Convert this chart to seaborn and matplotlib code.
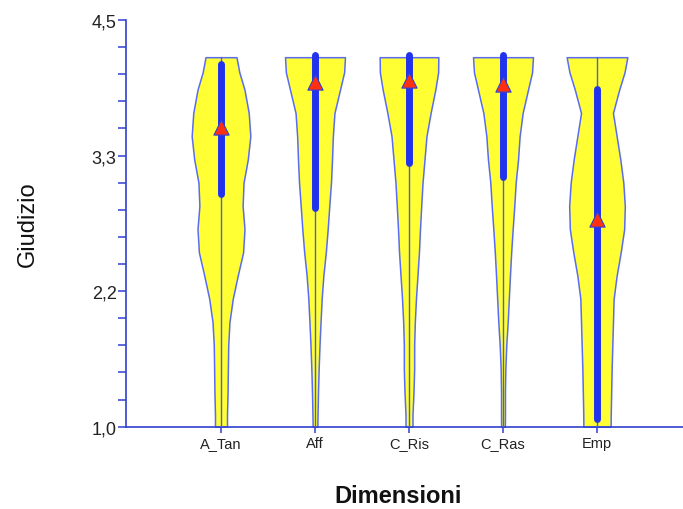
import numpy as np
import pandas as pd
import seaborn as sns
import matplotlib.pyplot as plt
from matplotlib import ticker

# categorie e profili dei violini (mezza larghezza, in unita' di categoria)
dimensioni = ["A_Tan", "Aff", "C_Ris", "C_Ras", "Emp"]
livelli = [4.18, 4.05, 3.9, 3.7, 3.5, 3.3, 3.1, 2.9, 2.7, 2.5, 2.3, 2.1,
           1.9, 1.7, 1.5, 1.3, 1.1, 1.0]
w_a_tan = [0.165, 0.195, 0.25, 0.295, 0.312, 0.285, 0.24, 0.23, 0.25, 0.235,
           0.178, 0.125, 0.09, 0.077, 0.073, 0.07, 0.064, 0.064]
w_aff = [0.319, 0.31, 0.266, 0.207, 0.19, 0.181, 0.17, 0.152, 0.135, 0.115,
         0.089, 0.071, 0.059, 0.048, 0.039, 0.032, 0.027, 0.025]
w_c_ris = [0.312, 0.31, 0.28, 0.23, 0.186, 0.165, 0.144, 0.13, 0.117, 0.106,
           0.09, 0.074, 0.062, 0.055, 0.055, 0.048, 0.037, 0.037]
w_c_ras = [0.319, 0.309, 0.266, 0.209, 0.177, 0.16, 0.135, 0.12, 0.103, 0.087,
           0.074, 0.062, 0.05, 0.035, 0.025, 0.021, 0.021, 0.02]
w_emp = [0.323, 0.293, 0.236, 0.17, 0.209, 0.248, 0.28, 0.296, 0.289, 0.252,
         0.209, 0.177, 0.17, 0.163, 0.156, 0.151, 0.146, 0.145]

# statistiche: quartili, baffi, medie
q1 = [3.0, 2.88, 3.27, 3.15, 1.07]
q3 = [4.12, 4.2, 4.2, 4.2, 3.91]
baffo_min = [1.0, 1.0, 1.0, 1.0, 1.0]
baffo_max = [4.18, 4.2, 4.2, 4.2, 4.18]
medie = [3.58, 3.97, 3.98, 3.95, 2.79]

y_ticks = [1.0, 2.1667, 3.3333, 4.5]
y_tick_labels = ["1,0", "2,2", "3,3", "4,5"]

sns.set_style("white")
plt.rcParams['font.family'] = ['Liberation Sans', 'DejaVu Sans']

blu_asse = '#3040d0'
blu_bordo = '#5a6cf0'
blu_box = '#2233ee'
giallo = '#ffff33'

fig = plt.figure(figsize=(6.83, 5.10), dpi=100)
ax = fig.add_axes([126 / 683, (510 - 427.7) / 510, 1 - 126 / 683, (427.7 - 21) / 510])

profili = [w_a_tan, w_aff, w_c_ris, w_c_ras, w_emp]
for i, w in enumerate(profili):
    w = np.array(w)
    ax.fill_betweenx(livelli, i - w, i + w, facecolor=giallo,
                     edgecolor=blu_bordo, linewidth=1.1, zorder=2)
    ax.plot([i, i], [baffo_min[i], baffo_max[i]], color='#5060c8',
            linewidth=1.0, zorder=3)
    ax.plot([i, i], [q1[i], q3[i]], color=blu_box, linewidth=5,
            solid_capstyle='round', zorder=4)

df_medie = pd.DataFrame({'pos': np.arange(len(dimensioni)), 'media': medie})
sns.scatterplot(data=df_medie, x='pos', y='media', marker='^', s=120,
                color='#ff3010', edgecolor='#3040d0', linewidth=0.8,
                zorder=5, ax=ax, legend=False)

ax.set_xlim(-95 / 94, 462 / 94)
ax.set_ylim(1.0, 4.5)
ax.set_xticks(range(len(dimensioni)))
ax.set_xticklabels(dimensioni)
ax.yaxis.set_major_locator(ticker.FixedLocator(y_ticks))
ax.yaxis.set_minor_locator(ticker.FixedLocator(np.linspace(1.0, 4.5, 16)))
ax.set_yticklabels(y_tick_labels)
ax.set_xlabel('')
ax.set_ylabel('')

for s in ['top', 'right']:
    ax.spines[s].set_visible(False)
for s in ['left', 'bottom']:
    ax.spines[s].set_color(blu_asse)
    ax.spines[s].set_linewidth(1.2)

ax.tick_params(axis='y', which='both', length=5.8, width=1.1, color=blu_asse,
               pad=1, labelsize=13, labelcolor='#222222', left=True)
ax.tick_params(axis='x', which='major', length=4.5, width=1.1, color=blu_asse,
               pad=2, labelsize=10.5, labelcolor='#222222', bottom=True)

fig.text(34 / 683, 0.561, 'Giudizio', rotation=90, rotation_mode='anchor',
         ha='center', va='baseline', fontsize=17, color='#111111')
fig.text(398 / 683, (510 - 503.3) / 510, 'Dimensioni', ha='center',
         va='baseline', fontsize=17, fontweight='bold', color='#111111')

plt.savefig('out.png', dpi=100)
